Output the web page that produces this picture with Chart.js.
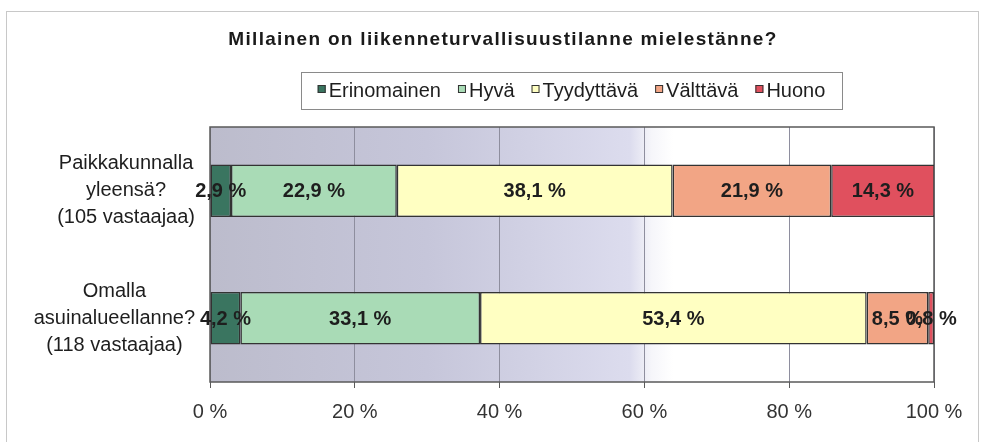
<!DOCTYPE html>
<html>
<head>
<meta charset="utf-8">
<script src="https://cdn.jsdelivr.net/npm/chart.js@4/dist/chart.umd.min.js"></script>
<style>
  html, body { margin: 0; padding: 0; background: #ffffff; }
  #wrap { width: 981px; height: 442px; }
</style>
</head>
<body>
<div id="wrap"><canvas id="c" width="981" height="442"></canvas></div>
<script>
// ---- data ----
const titleText = 'Millainen on liikenneturvallisuustilanne mielestänne?';
const categories = [
  ['Paikkakunnalla', 'yleensä?', '(105 vastaajaa)'],
  ['Omalla', 'asuinalueellanne?', '(118 vastaajaa)']
];
const seriesNames = ['Erinomainen', 'Hyvä', 'Tyydyttävä', 'Välttävä', 'Huono'];
const erinomainen = [2.9, 4.2];
const hyva = [22.9, 33.1];
const tyydyttava = [38.1, 53.4];
const valttava = [21.9, 8.5];
const huono = [14.3, 0.8];
const xTicks = [0, 20, 40, 60, 80, 100];

const seriesValues = [erinomainen, hyva, tyydyttava, valttava, huono];
const seriesColors = ['#3a7560', '#a9dbb6', '#ffffc2', '#f2a585', '#e0505e'];

const FONT = '"Liberation Sans", Arial, sans-serif';

const datasets = seriesNames.map((n, i) => ({
  label: n,
  data: seriesValues[i],
  backgroundColor: seriesColors[i],
  borderColor: '#333333',
  borderWidth: 1.5,
  borderSkipped: false,
  categoryPercentage: 0.82,
  barPercentage: 0.5
}));

const decorPlugin = {
  id: 'decor',
  beforeDraw(chart) {
    const ctx = chart.ctx;
    const a = chart.chartArea;
    ctx.save();
    ctx.fillStyle = '#ffffff';
    ctx.fillRect(0, 0, chart.width, chart.height);
    // outer frame
    ctx.strokeStyle = '#c8c8c8';
    ctx.lineWidth = 1;
    ctx.strokeRect(6.5, 11.5, 972, 440);
    // plot background gradient
    const g = ctx.createLinearGradient(a.left, 0, a.right, 0);
    g.addColorStop(0, '#bcbccc');
    g.addColorStop(0.3, '#c6c6da');
    g.addColorStop(0.58, '#dcdcee');
    g.addColorStop(0.61, '#f6f6fa');
    g.addColorStop(0.64, '#ffffff');
    g.addColorStop(1, '#ffffff');
    ctx.fillStyle = g;
    ctx.fillRect(a.left, a.top, a.right - a.left, a.bottom - a.top);
    ctx.restore();
  },
  beforeDatasetsDraw(chart) {
    const ctx = chart.ctx;
    const a = chart.chartArea;
    ctx.save();
    ctx.strokeStyle = '#5a5a5a';
    ctx.lineWidth = 1.5;
    ctx.strokeRect(a.left, a.top, a.right - a.left, a.bottom - a.top);
    ctx.restore();
  },
  afterDatasetsDraw(chart) {
    const ctx = chart.ctx;
    ctx.save();
    // data labels
    ctx.font = 'bold 20px ' + FONT;
    ctx.fillStyle = '#1e1e1e';
    ctx.textAlign = 'center';
    ctx.textBaseline = 'middle';
    chart.data.datasets.forEach((ds, di) => {
      const meta = chart.getDatasetMeta(di);
      meta.data.forEach((el, i) => {
        const p = el.getProps(['x', 'y', 'base'], true);
        const v = ds.data[i];
        ctx.fillText(v.toFixed(1).replace('.', ',') + ' %', (p.x + p.base) / 2, p.y + 1);
      });
    });
    // category labels
    const yScale = chart.scales.y;
    ctx.font = '20px ' + FONT;
    ctx.fillStyle = '#1e1e1e';
    const rightEdge = chart.chartArea.left - 15;
    chart.data.labels.forEach((lines, i) => {
      const yc = yScale.getPixelForValue(i);
      const maxW = Math.max(...lines.map(l => ctx.measureText(l).width));
      const cx = rightEdge - maxW / 2;
      const lh = 27;
      lines.forEach((l, k) => {
        ctx.fillText(l, cx, yc + (k - (lines.length - 1) / 2) * lh);
      });
    });
    ctx.restore();
  },
  afterDraw(chart) {
    const ctx = chart.ctx;
    ctx.save();
    // title
    ctx.font = 'bold 19px ' + FONT;
    ctx.fillStyle = '#1a1a1a';
    ctx.textAlign = 'center';
    ctx.textBaseline = 'alphabetic';
    try { ctx.letterSpacing = '1.3px'; } catch (e) {}
    ctx.fillText(titleText, 503, 45);
    try { ctx.letterSpacing = '0px'; } catch (e) {}
    // legend box
    ctx.font = '20px ' + FONT;
    const sq = 8, gapSq = 3, gapItem = 17;
    const items = chart.data.datasets.map(ds => ({ t: ds.label, c: ds.backgroundColor, w: ctx.measureText(ds.label).width }));
    const total = items.reduce((s, it) => s + sq + gapSq + it.w, 0) + gapItem * (items.length - 1);
    const boxL = 301, boxR = 842, boxT = 72, boxB = 109;
    ctx.fillStyle = '#ffffff';
    ctx.fillRect(boxL, boxT, boxR - boxL, boxB - boxT);
    ctx.strokeStyle = '#8a8a8a';
    ctx.lineWidth = 1;
    ctx.strokeRect(boxL + 0.5, boxT + 0.5, boxR - boxL, boxB - boxT);
    let x = (boxL + boxR) / 2 - total / 2;
    const base = 97;
    ctx.textAlign = 'left';
    items.forEach(it => {
      ctx.fillStyle = it.c;
      ctx.fillRect(x, base - 12, sq, sq);
      ctx.strokeStyle = '#333333';
      ctx.strokeRect(x + 0.5, base - 11.5, sq - 1, sq - 1);
      ctx.fillStyle = '#1e1e1e';
      ctx.fillText(it.t, x + sq + gapSq, base);
      x += sq + gapSq + it.w + gapItem;
    });
    ctx.restore();
  }
};

new Chart(document.getElementById('c'), {
  type: 'bar',
  data: { labels: categories, datasets },
  plugins: [decorPlugin],
  options: {
    indexAxis: 'y',
    responsive: false,
    animation: false,
    layout: { padding: { left: 210, top: 127, right: 47, bottom: 6 } },
    plugins: {
      legend: { display: false },
      title: { display: false },
      tooltip: { enabled: false }
    },
    scales: {
      x: {
        stacked: true,
        min: 0,
        max: 100,
        afterBuildTicks(scale) { scale.ticks = xTicks.map(v => ({ value: v })); },
        ticks: {
          callback: v => v + ' %',
          font: { family: FONT, size: 20 },
          color: '#333333',
          padding: 12,
          maxRotation: 0
        },
        grid: { color: '#8e8e9e', lineWidth: 1, tickLength: 6, tickColor: '#5a5a5a' },
        border: { display: false }
      },
      y: {
        stacked: true,
        display: false
      }
    }
  }
});
</script>
</body>
</html>
